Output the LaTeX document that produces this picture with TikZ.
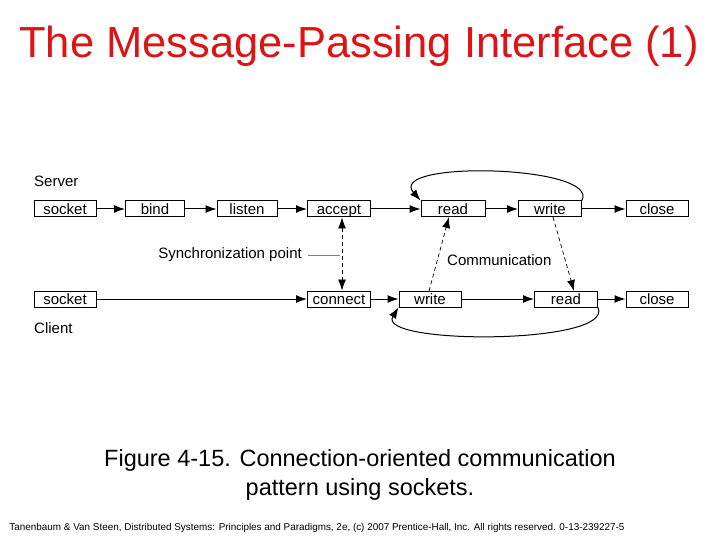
\documentclass[tikz,border=0pt]{standalone}
\usepackage{fontspec}
\setmainfont{Liberation Sans}
\usetikzlibrary{arrows.meta}
\definecolor{tred}{RGB}{220,20,20}
\begin{document}
\begin{tikzpicture}[x=1pt,y=-1pt,
  box/.style={draw,line width=1pt,minimum width=62pt,minimum height=16pt,inner sep=0pt,text height=11pt,text depth=0pt,font=\fontsize{15}{15}\selectfont},
  arr/.style={line width=1pt,-{Latex[length=11pt,width=8pt]}},
  dsh/.style={line width=0.7pt,dash pattern=on 4pt off 3pt,-{Latex[length=11pt,width=8pt]}},
  lbl/.style={font=\fontsize{15}{15}\selectfont,inner sep=0pt}]
\useasboundingbox (0,0) rectangle (720,540);
\node[font=\fontsize{43.5}{44}\selectfont,text=tred] (title) at (359,46) {The Message-Passing Interface (1)};
\node[lbl,anchor=west] (srv) at (34,181) {Server};
\node[lbl,anchor=west] (cli) at (34,328) {Client};
\node[box] (s1) at (65,209) {socket};
\node[box,minimum width=59pt] (s2) at (155,209) {bind};
\node[box,minimum width=60pt] (s3) at (247,209) {listen};
\node[box,minimum width=63pt] (s4) at (339,209) {accept};
\node[box,minimum width=64pt] (s5) at (453,209) {read};
\node[box,minimum width=63pt] (s6) at (550,209) {write};
\node[box] (s7) at (657,209) {close};
\node[box] (c1) at (65,299) {socket};
\node[box,minimum width=63pt] (c2) at (339,299) {connect};
\node[box] (c3) at (430,299) {write};
\node[box,minimum width=63pt] (c4) at (566,299) {read};
\node[box] (c5) at (657,299) {close};
\draw[arr] (s1) -- (s2); \draw[arr] (s2) -- (s3); \draw[arr] (s3) -- (s4);
\draw[arr] (s4) -- (s5); \draw[arr] (s5) -- (s6); \draw[arr] (s6) -- (s7);
\draw[arr] (c1) -- (c2); \draw[arr] (c2) -- (c3); \draw[arr] (c3) -- (c4); \draw[arr] (c4) -- (c5);
\draw[arr] (s6.north east) .. controls (600,165) and (385,160) .. (s5.north west);
\draw[arr] (c4.south east) .. controls (615,345) and (375,345) .. (c3.south west);
\draw[dsh,{Latex[length=11pt,width=8pt]}-{Latex[length=11pt,width=8pt]}] (s4.south) ++(3,0) coordinate (a1) -- (c2.north -| a1);
\node[lbl,anchor=east] (sync) at (302,255) {Synchronization point};
\coordinate (g1) at (308,255); \coordinate (g2) at (340,255);
\draw[gray,line width=0.6pt] (g1) -- (g2);
\node[lbl,anchor=west] (comm) at (447,260) {Communication};
\coordinate (w1) at (429,291); \coordinate (r1) at (449,217);
\draw[dsh] (w1) -- (r1);
\coordinate (w2) at (553,217); \coordinate (r2) at (574,291);
\draw[dsh] (w2) -- (r2);
\node[font=\fontsize{23.5}{29}\selectfont,align=center] (cap) at (360,475) {Figure 4-15. Connection-oriented communication\\pattern using sockets.};
\node[font=\fontsize{9.9}{10}\selectfont] (foot) at (317,528) {Tanenbaum \& Van Steen, Distributed Systems: Principles and Paradigms, 2e, (c) 2007 Prentice-Hall, Inc. All rights reserved. 0-13-239227-5};
\end{tikzpicture}
\end{document}
